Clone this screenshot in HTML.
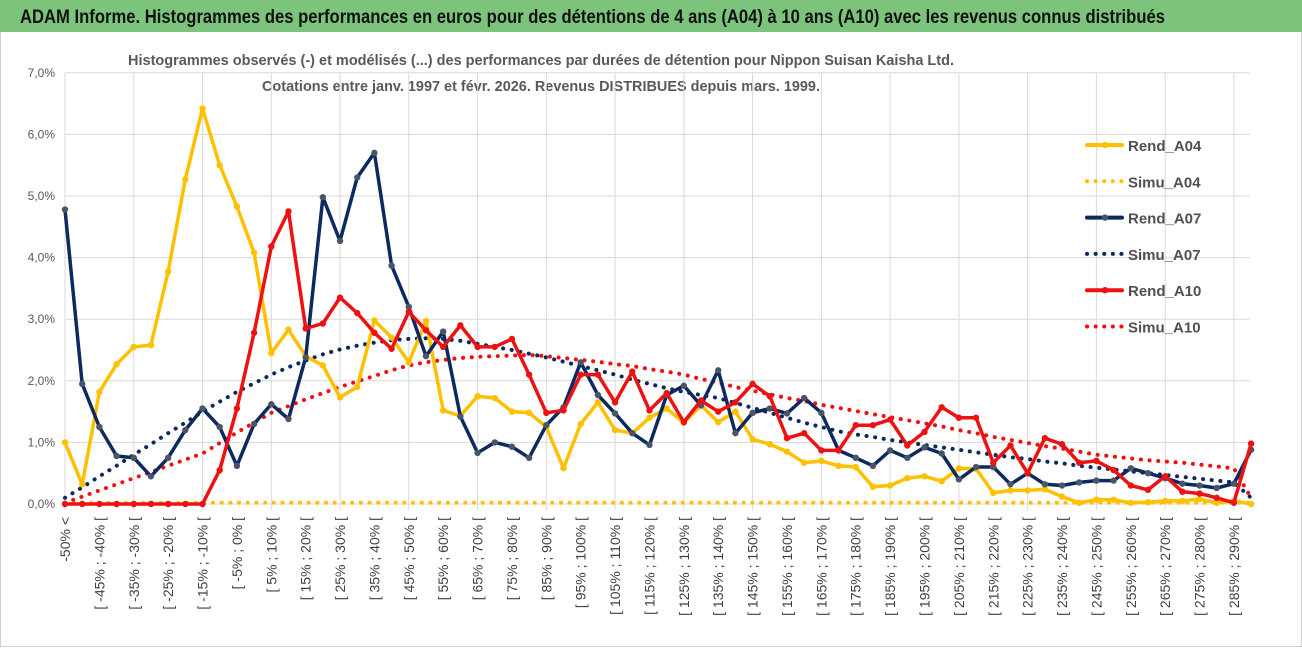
<!DOCTYPE html>
<html><head><meta charset="utf-8"><style>
body{margin:0;width:1302px;height:647px;overflow:hidden;background:#fff;font-family:"Liberation Sans",sans-serif}
</style></head><body>
<svg id="c" width="1302" height="647" xmlns="http://www.w3.org/2000/svg" font-family="Liberation Sans, sans-serif">
<rect x="0" y="0" width="1302" height="647" fill="#fff" stroke="#a0a0a0" stroke-width="1"/>
<rect x="0" y="0" width="1302" height="32" fill="#7cc47c"/>
<text x="20" y="23" font-size="19" font-weight="bold" fill="#111" textLength="1145" lengthAdjust="spacingAndGlyphs">ADAM Informe. Histogrammes des performances en euros pour des détentions de 4 ans (A04) à 10 ans (A10) avec les revenus connus distribués</text>
<text x="541" y="65" font-size="15" font-weight="bold" fill="#595959" text-anchor="middle" textLength="826" lengthAdjust="spacingAndGlyphs">Histogrammes observés (-) et modélisés (...) des performances par durées de détention pour Nippon Suisan Kaisha Ltd.</text>
<text x="541" y="91" font-size="15" font-weight="bold" fill="#595959" text-anchor="middle" textLength="558" lengthAdjust="spacingAndGlyphs">Cotations entre janv. 1997 et févr. 2026. Revenus DISTRIBUES depuis mars. 1999.</text>
<g id="grid"></g><g id="ylab"></g><g id="xlab"></g><g id="series"></g><g id="legend"></g>
</svg>
<script>
const rendA04=[1.0,0.32,1.82,2.27,2.55,2.58,3.77,5.27,6.42,5.5,4.83,4.08,2.45,2.83,2.4,2.25,1.73,1.9,2.98,2.7,2.3,2.97,1.52,1.43,1.75,1.72,1.5,1.48,1.25,0.58,1.3,1.65,1.2,1.15,1.4,1.55,1.32,1.6,1.33,1.5,1.05,0.97,0.85,0.67,0.7,0.62,0.6,0.28,0.3,0.42,0.45,0.37,0.58,0.57,0.18,0.22,0.22,0.24,0.12,0.02,0.07,0.07,0.02,0.03,0.05,0.05,0.08,0.02,0.05,0.0];
const rendA07=[4.78,1.95,1.25,0.78,0.75,0.45,0.75,1.2,1.55,1.25,0.62,1.3,1.62,1.38,2.38,4.98,4.27,5.3,5.7,3.87,3.2,2.4,2.8,1.42,0.83,1.0,0.93,0.75,1.28,1.57,2.3,1.77,1.47,1.15,0.96,1.77,1.92,1.6,2.17,1.15,1.48,1.55,1.47,1.72,1.48,0.87,0.75,0.62,0.87,0.75,0.92,0.82,0.4,0.6,0.6,0.32,0.5,0.32,0.3,0.35,0.38,0.38,0.58,0.5,0.42,0.33,0.3,0.26,0.33,0.88];
const rendA10=[0,0,0,0,0,0,0,0,0,0.55,1.55,2.78,4.18,4.75,2.85,2.93,3.35,3.1,2.78,2.52,3.12,2.82,2.55,2.9,2.55,2.55,2.68,2.1,1.48,1.52,2.1,2.1,1.65,2.15,1.52,1.8,1.33,1.68,1.5,1.65,1.95,1.75,1.07,1.15,0.87,0.87,1.28,1.28,1.37,0.95,1.17,1.57,1.4,1.4,0.67,0.95,0.5,1.07,0.97,0.67,0.7,0.55,0.3,0.23,0.45,0.2,0.17,0.1,0.02,0.98];
const simuA04=[0.02,0.02,0.02,0.02,0.02,0.02,0.02,0.02,0.02,0.02,0.02,0.02,0.02,0.02,0.02,0.02,0.02,0.02,0.02,0.02,0.02,0.02,0.02,0.02,0.02,0.02,0.02,0.02,0.02,0.02,0.02,0.02,0.02,0.02,0.02,0.02,0.02,0.02,0.02,0.02,0.02,0.02,0.02,0.02,0.02,0.02,0.02,0.02,0.02,0.02,0.02,0.02,0.02,0.02,0.02,0.02,0.02,0.02,0.02,0.02,0.02,0.02,0.02,0.02,0.02,0.02,0.02,0.02,0.02,0.02];
const simuA07=[0.1,0.27,0.45,0.62,0.8,0.97,1.15,1.32,1.5,1.66,1.82,1.96,2.1,2.22,2.33,2.43,2.51,2.57,2.62,2.66,2.68,2.69,2.68,2.65,2.6,2.55,2.5,2.44,2.38,2.31,2.24,2.17,2.1,2.02,1.95,1.88,1.82,1.77,1.72,1.64,1.56,1.48,1.4,1.32,1.25,1.18,1.13,1.09,1.04,1.0,0.96,0.92,0.88,0.84,0.8,0.76,0.73,0.69,0.66,0.62,0.59,0.56,0.53,0.5,0.47,0.44,0.41,0.38,0.35,0.1];
const simuA10=[0.02,0.12,0.22,0.32,0.42,0.52,0.62,0.72,0.82,0.99,1.16,1.32,1.48,1.59,1.7,1.8,1.9,1.99,2.08,2.17,2.25,2.3,2.34,2.37,2.39,2.4,2.41,2.42,2.4,2.37,2.34,2.31,2.27,2.24,2.19,2.15,2.1,2.03,1.97,1.9,1.84,1.78,1.72,1.67,1.61,1.56,1.51,1.46,1.41,1.36,1.31,1.26,1.2,1.15,1.09,1.04,0.99,0.94,0.9,0.85,0.8,0.77,0.74,0.71,0.69,0.67,0.64,0.61,0.58,0.1];
const yTicks=[0,1,2,3,4,5,6,7];
const yTickLabels=["0,0%","1,0%","2,0%","3,0%","4,0%","5,0%","6,0%","7,0%"];
const categories=["-50% <"];
for(let k=1;k<70;k++){categories.push("[ "+(-55+5*k)+"% ; "+(-50+5*k)+"% [");}

const NS="http://www.w3.org/2000/svg";
const X0=65,DX=17.19,Y0=504,PY=61.6;
const xs=i=>X0+i*DX, ys=v=>Y0-v*PY;
function mk(tag,attrs,parent){const e=document.createElementNS(NS,tag);for(const k in attrs)e.setAttribute(k,attrs[k]);parent.appendChild(e);return e;}
const grid=document.getElementById('grid'),ylab=document.getElementById('ylab'),xlab=document.getElementById('xlab'),ser=document.getElementById('series'),leg=document.getElementById('legend');
yTicks.forEach((t,i)=>{
 const l=mk('line',{x1:X0,x2:1250,y1:ys(t),y2:ys(t),stroke:'#d9d9d9','stroke-width':1},grid);
 
 
 const tx=mk('text',{x:55,y:ys(t)+4,'font-size':12,fill:'#595959','text-anchor':'end'},ylab);
 tx.textContent=yTickLabels[i];
 
 
});
for(let i=0;i<categories.length;i+=4){
 const l=mk('line',{x1:xs(i),x2:xs(i),y1:ys(7),y2:Y0+6,stroke:'#d9d9d9','stroke-width':1},grid);
 
 
}
categories.forEach((c,i)=>{
 if(i%2)return;
 const x=xs(i)+5,y=517;
 const tx=mk('text',{x:x,y:y,'font-size':14,fill:'#404040','text-anchor':'end',transform:`rotate(-90 ${x} ${y})`},xlab);
 tx.textContent=c;
 
 
});
function line(vals,color,name,dotted,marker){
 const d=vals.map((v,i)=>(i?'L':'M')+xs(i).toFixed(1)+' '+ys(v).toFixed(1)).join(' ');
 const p=mk('path',{d:d,fill:'none',stroke:color,'stroke-width':dotted?4:3.5,'stroke-linecap':'round','stroke-linejoin':'round'},ser);
 if(dotted)p.setAttribute('stroke-dasharray','0.1 8.6');
 
 
 if(marker){vals.forEach((v,i)=>{
  const m=mk('circle',{cx:xs(i),cy:ys(v),r:3.2,fill:marker},ser);
  
  
 });}
}
line(simuA04,'#ffc000','simu-a04',true,null);
line(simuA10,'#ee1111','simu-a10',true,null);
line(simuA07,'#0c2a60','simu-a07',true,null);
line(rendA04,'#ffc000','rend-a04',false,'#ffc000');
line(rendA07,'#0c2a60','rend-a07',false,'#4a5568');
line(rendA10,'#ee1111','rend-a10',false,'#ee1111');
const legItems=[["Rend_A04",'#ffc000',false,'#ffc000'],["Simu_A04",'#ffc000',true,null],["Rend_A07",'#0c2a60',false,'#4a5568'],["Simu_A07",'#0c2a60',true,null],["Rend_A10",'#ee1111',false,'#ee1111'],["Simu_A10",'#ee1111',true,null]];
legItems.forEach((it,i)=>{
 const y=145+i*36.3;
 const l=mk('line',{x1:1087,x2:1122,y1:y,y2:y,stroke:it[1],'stroke-width':4,'stroke-linecap':'round'},leg);
 if(it[2])l.setAttribute('stroke-dasharray','0.1 8.5');
 
 
 if(it[3]){const m=mk('circle',{cx:1105,cy:y,r:3.2,fill:it[3]},leg);
  
  }
 const t=mk('text',{x:1128,y:y+6,'font-size':15,'font-weight':'bold',fill:'#505050'},leg);
 t.textContent=it[0];
 
 
});
</script>
</body></html>
